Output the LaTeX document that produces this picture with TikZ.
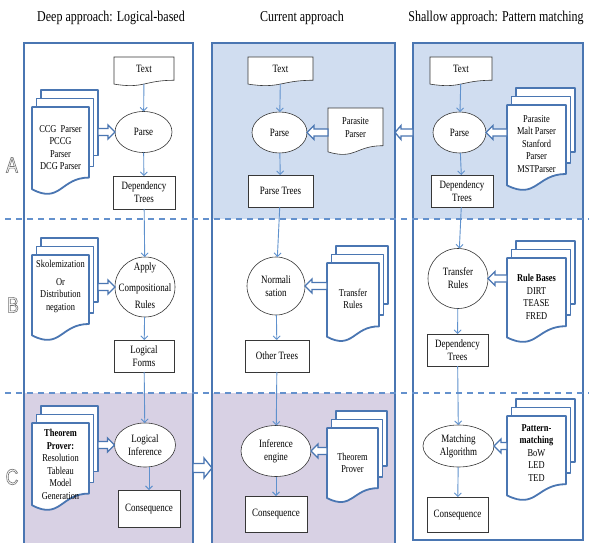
\documentclass[tikz,border=0pt]{standalone}
\usepackage{fontspec}
\setmainfont{Liberation Serif}[FakeStretch=0.8]
\setsansfont{Liberation Sans}[FakeStretch=0.8]
\usetikzlibrary{calc,shapes.geometric,arrows.meta}
\pgfdeclarelayer{back}
\pgfdeclarelayer{mid}
\pgfsetlayers{back,mid,main}
\definecolor{frameblue}{RGB}{74,118,178}
\definecolor{flowblue}{RGB}{95,145,205}
\definecolor{fillblue}{RGB}{208,221,240}
\definecolor{filllav}{RGB}{216,209,228}
\definecolor{boxline}{RGB}{55,55,55}
\definecolor{dashblue}{RGB}{100,145,205}
\newcommand\myfn{\fontsize{11.2}{13}\selectfont}
\newcommand\myfs{\fontsize{10.5}{12.5}\selectfont}
\newcommand\docpath[2]{%
  \path[#2] (#1.north west) -- (#1.north east) -- ($(#1.north east)!0.802!(#1.south east)$)
    .. controls ($(#1.north)!0.802!(#1.south)$) and ($(#1.north)!1.107!(#1.south)$) ..
    ($(#1.north west)!0.934!(#1.south west)$) -- cycle;}
\newcommand\stackpath[1]{%
  \coordinate (#1-rb) at ($(#1.north east)!0.802!(#1.south east)$);
  \foreach \k in {2,1}{%
    \pgfmathsetmacro\kp{\k-1}%
    \fill[white] ($(#1.north west)+(4.5*\k,-8.5*\k)$) rectangle ($(#1-rb)+(4.5*\k,-11*\k)$);
    \draw[thickdoc] ($(#1.north west)+(4.5*\k,-8.5*\kp)$) -- ($(#1.north west)+(4.5*\k,-8.5*\k)$)
      -- ($(#1.north east)+(4.5*\k,-8.5*\k)$) -- ($(#1-rb)+(4.5*\k,-11*\k)$) -- ($(#1-rb)+(4.5*\kp,-11*\k)$);
  }%
  \docpath{#1}{thickdoc}}
\newcommand\harrow[5]{%
  \draw[hol] let \p1=(#1), \p2=(#2), \n1={sign(\x2-\x1)} in
   (\x1,{\y1+#3}) -- ({\x2-(\n1)*#5},{\y1+#3}) -- ({\x2-(\n1)*#5},{\y1+#4}) -- (\x2,\y1)
   -- ({\x2-(\n1)*#5},{\y1-#4}) -- ({\x2-(\n1)*#5},{\y1-#3}) -- (\x1,{\y1-#3}) -- cycle;}
\begin{document}
\begin{tikzpicture}[x=1pt,y=-1pt,
  every node/.style={inner sep=0pt, outer sep=0pt},
  box/.style={draw=boxline, line width=0.6pt, fill=white, rectangle, align=center, font=\myfn},
  ell/.style={draw=boxline, line width=0.6pt, fill=white, ellipse, align=center, font=\myfn},
  circ/.style={draw=boxline, line width=0.6pt, fill=white, circle, align=center, font=\myfn},
  frm/.style={rectangle},
  dtext/.style={align=center, font=\myfs},
  flow/.style={draw=flowblue, line width=0.9pt, -{Straight Barb[length=3.5pt,width=7pt]}},
  hol/.style={draw=frameblue, line width=1.3pt, fill=white, line join=miter},
  thindoc/.style={draw=boxline, line width=0.6pt, fill=white},
  thickdoc/.style={draw=frameblue, line width=1.8pt, fill=white, line join=round},
  col/.style={draw=frameblue, line width=2.2pt, rectangle},
  sep/.style={draw=dashblue, line width=1.2pt, dash pattern=on 6pt off 5pt},
  head/.style={font=\fontsize{15}{17}\selectfont},
  sec/.style={font=\fontsize{22}{22}\selectfont\sffamily, text=black!55}
]
\useasboundingbox (0,0) rectangle (589,543);
\begin{pgfonlayer}{back}
  \fill[white] (0,0) rectangle (589,543);
  \fill[filllav] (24,393) rectangle (193,560);
  \fill[fillblue] (212,43) rectangle (395,219);
  \fill[filllav] (212,393) rectangle (395,560);
  \fill[fillblue] (413,43) rectangle (583,219);
\end{pgfonlayer}

% headers and section letters
\node[head] (hL) at (111,18) {Deep approach: Logical-based};
\node[head] (hM) at (302,18) {Current approach};
\node[head] (hR) at (496,18) {Shallow approach: Pattern matching};
\node[sec] (secA) at (12,165) {\special{pdf:literal direct 1 Tr 0.6 w}A};
\node[sec] (secB) at (13,305) {\special{pdf:literal direct 1 Tr 0.6 w}B};
\node[sec] (secC) at (12,477) {\special{pdf:literal direct 1 Tr 0.6 w}C};

% columns
\node[col, minimum width=169pt, minimum height=517pt] (colL) at (108.5,301.5) {};
\node[col, minimum width=183pt, minimum height=517pt, line width=2.6pt] (colM) at (303.5,301.5) {};
\node[col, minimum width=170pt, minimum height=497pt] (colR) at (498,291.5) {};
\draw[sep] (5,219) -- (589,219);
\draw[sep] (5,393) -- (589,393);
\coordinate (cC) at (0,468);

% left column
\node[frm, minimum width=60pt, minimum height=29pt] (textL) at (144,71.5) {};
\node[dtext, font=\myfn] (textLt) at (144,69) {Text};
\node[ell, minimum width=57pt, minimum height=41pt] (parseL) at (143.5,132) {Parse};
\node[box, minimum width=62pt, minimum height=33pt] (depL) at (144,192.5) {Dependency\\Trees};
\node[circ, minimum size=60pt] (applyL) at (145,287) {};
\node[dtext, font=\myfn] (applyLt) at (145,286) {Apply\\[8pt]Compositional\\[4pt]Rules};
\node[box, minimum width=60pt, minimum height=32pt] (logL) at (144,356) {Logical\\Forms};
\node[ell, minimum width=61pt, minimum height=44pt] (infL) at (145,445) {Logical\\Inference};
\node[box, minimum width=62pt, minimum height=37pt] (consL) at (149,508.5) {Consequence};
\node[frm, minimum width=57pt, minimum height=88pt] (stkAL) at (60.5,151) {};
\node[dtext] (stkALt) at (60.5,147.5) {CCG\ \ Parser\\PCCG\\Parser\\DCG Parser};
\node[frm, minimum width=57pt, minimum height=86pt] (stkBL) at (60.5,298) {};
\node[dtext] (stkBLt) at (60.5,286.5) {Skolemization\\[5pt]Or\\Distribution\\negation};
\node[frm, minimum width=57pt, minimum height=88pt] (stkCL) at (60.5,467) {};
\node[dtext] (stkCLt) at (60.5,464.5) {\textbf{Theorem}\\\textbf{Prover:}\\Resolution\\Tableau\\Model\\Generation};

% middle column
\node[frm, minimum width=65pt, minimum height=29pt] (textM) at (280.5,71.5) {};
\node[dtext, font=\myfn] (textMt) at (280.5,69) {Text};
\node[ell, minimum width=55pt, minimum height=41pt] (parseM) at (279.5,132.5) {Parse};
\node[frm, minimum width=55pt, minimum height=47pt] (parM) at (355.5,131.5) {};
\node[dtext] (parMt) at (355.5,127.5) {Parasite\\Parser};
\node[box, minimum width=65pt, minimum height=32pt] (ptM) at (280.5,191) {Parse Trees};
\node[circ, minimum size=58pt] (normM) at (276,286) {Normali\\sation};
\node[frm, minimum width=52pt, minimum height=79pt] (trM) at (353,302.5) {};
\node[dtext] (trMt) at (353,299) {Transfer\\Rules};
\node[box, minimum width=64pt, minimum height=32pt] (otM) at (277,356) {Other Trees};
\node[ell, minimum width=70pt, minimum height=51pt] (infM) at (276,451) {Inference\\engine};
\node[frm, minimum width=51pt, minimum height=75pt] (thmM) at (352.5,465.5) {};
\node[dtext] (thmMt) at (352.5,463) {Theorem\\Prover};
\node[box, minimum width=62pt, minimum height=36pt] (consM) at (276,514) {Consequence};

% right column
\node[frm, minimum width=62pt, minimum height=29pt] (textR) at (461,71.5) {};
\node[dtext, font=\myfn] (textRt) at (461,69) {Text};
\node[ell, minimum width=53pt, minimum height=41pt] (parseR) at (459.5,132.5) {Parse};
\node[frm, minimum width=59pt, minimum height=86pt] (stkAR) at (536.5,148) {};
\node[dtext] (stkARt) at (536.5,144) {Parasite\\Malt Parser\\Stanford\\Parser\\MSTParser};
\node[box, minimum width=62pt, minimum height=32pt] (depR) at (462,191) {Dependency\\Trees};
\node[circ, minimum size=60pt] (trR) at (458,278.5) {Transfer\\Rules};
\node[frm, minimum width=59pt, minimum height=85pt] (stkBR) at (536.5,300.5) {};
\node[dtext] (stkBRt) at (536.5,297) {\textbf{Rule Bases}\\DIRT\\TEASE\\FRED};
\node[box, minimum width=61pt, minimum height=32pt] (dep2R) at (457.5,350) {Dependency\\Trees};
\node[ell, minimum width=71pt, minimum height=42pt] (matchR) at (458.5,446) {Matching\\Algorithm};
\node[frm, minimum width=59pt, minimum height=85pt] (stkCR) at (536.5,458.5) {};
\node[dtext] (stkCRt) at (536.5,453) {\textbf{Pattern-}\\\textbf{matching}\\BoW\\LED\\TED};
\node[box, minimum width=61pt, minimum height=35pt] (consR) at (457.5,514.5) {Consequence};

% document shapes
\begin{pgfonlayer}{mid}
  \docpath{textL}{thindoc}
  \docpath{textM}{thindoc}
  \docpath{textR}{thindoc}
  \docpath{parM}{thindoc}
  \stackpath{stkAL}
  \stackpath{stkBL}
  \stackpath{stkCL}
  \stackpath{trM}
  \stackpath{thmM}
  \stackpath{stkAR}
  \stackpath{stkBR}
  \stackpath{stkCR}
\end{pgfonlayer}

% flow arrows
\draw[flow, shorten <=-2pt] (textL) -- (parseL);
\draw[flow] (parseL) -- (depL);
\draw[flow] (depL) -- (applyL);
\draw[flow] (applyL) -- (logL);
\draw[flow] (logL) -- (infL);
\draw[flow] (infL.south -| consL.north) -- (consL.north);
\draw[flow, shorten <=-2pt] (textM) -- (parseM);
\draw[flow] (parseM) -- (ptM);
\draw[flow] (ptM) -- (normM);
\draw[flow] (normM) -- (otM);
\draw[flow] (otM) -- (infM);
\draw[flow] (infM) -- (consM);
\draw[flow, shorten <=-2pt] (textR) -- (parseR);
\draw[flow] (parseR) -- (depR);
\draw[flow] (depR) -- (trR);
\draw[flow] (trR) -- (dep2R);
\draw[flow] (dep2R) -- (matchR);
\draw[flow] (matchR) -- (consR);

% hollow arrows
\harrow{$(stkAL.east|-parseL)+(9,0)$}{parseL.west}{3.5pt}{7pt}{7pt}
\harrow{$(stkBL.east|-applyL)+(9,0)$}{applyL.west}{3.5pt}{7pt}{7pt}
\harrow{$(stkCL.east|-infL)+(9,0)$}{infL.west}{3.5pt}{7pt}{7pt}
\harrow{parM.west|-parseM}{parseM.east}{3.5pt}{7pt}{7pt}
\harrow{trM.west|-normM}{normM.east}{3.5pt}{7pt}{7pt}
\harrow{thmM.west|-infM}{infM.east}{3.5pt}{7pt}{7pt}
\harrow{stkAR.west|-parseR}{parseR.east}{3.5pt}{7pt}{7pt}
\harrow{stkBR.west|-trR}{trR.east}{3.5pt}{7pt}{7pt}
\harrow{stkCR.west|-matchR}{matchR.east}{3.5pt}{7pt}{7pt}
\harrow{colR.west|-parseR}{colM.east|-parseR}{3.5pt}{7pt}{6pt}
\harrow{colL.east|-cC}{colM.west|-cC}{4.5pt}{10pt}{8pt}
\end{tikzpicture}
\end{document}
